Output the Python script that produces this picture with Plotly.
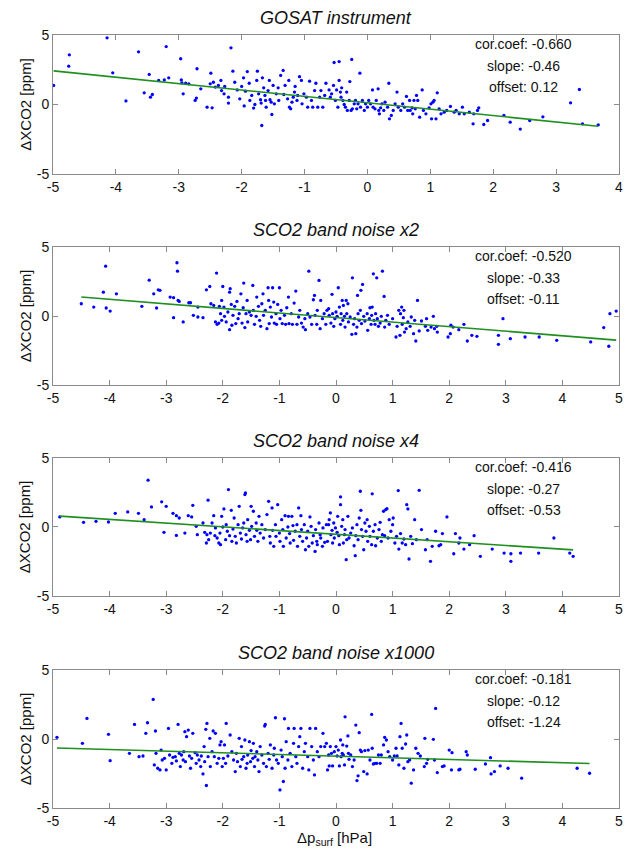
import plotly.graph_objects as go

# ---------------- data ----------------
titles = ["GOSAT instrument", "SCO2 band noise x2", "SCO2 band noise x4", "SCO2 band noise x1000"]
cor_coefs = ["-0.660", "-0.520", "-0.416", "-0.181"]
slopes = [-0.46, -0.33, -0.27, -0.12]
offsets = [0.12, -0.11, -0.53, -1.24]
x_ranges = [[-5, 4], [-5, 5], [-5, 5], [-5, 5]]
y_ticks = [-5, 0, 5]

gosat_pts = [
    (-4.99, 1.37), (-4.74, 3.57), (-4.75, 2.76), (-4.14, 4.80), (-4.05, 2.28), (-3.84, 0.26), (-3.64, 3.79),
    (-3.55, 0.84), (-3.47, 2.16), (-3.45, 0.53), (-3.42, 0.72), (-3.32, 1.73), (-3.23, 1.77), (-3.20, 4.17),
    (-3.16, 1.92), (-2.97, 3.29), (-2.96, 1.77), (-2.95, 1.56), (-2.93, 0.77), (-2.89, 1.53), (-2.84, 1.49),
    (-2.74, 0.29), (-2.71, 2.57), (-2.72, 0.46), (-2.65, 1.13), (-2.55, -0.19), (-2.47, -0.24), (-2.50, 1.49),
    (-2.49, 2.25), (-2.45, 1.60), (-2.42, 1.25), (-2.37, 1.37), (-2.33, 1.73), (-2.32, 1.00), (-2.28, 0.77),
    (-2.27, 1.30), (-2.21, 0.53), (-2.21, 0.10), (-2.17, 4.08), (-2.14, 2.40), (-2.11, 1.60), (-2.07, 1.05),
    (-2.03, 0.41), (-2.00, 1.30), (-1.97, 1.92), (-1.96, -0.10), (-1.94, 0.96), (-1.91, 2.37), (-1.88, 1.53),
    (-1.87, 0.29), (-1.84, 0.65), (-1.81, -0.26), (-1.79, 0.00), (-1.76, 1.73), (-1.75, 2.40), (-1.73, 0.77),
    (-1.70, 0.34), (-1.69, 0.10), (-1.68, -1.51), (-1.67, 1.92), (-1.65, 1.20), (-1.63, 0.65), (-1.62, 0.29),
    (-1.61, -0.19), (-1.58, 1.00), (-1.56, 1.73), (-1.55, 0.34), (-1.53, 0.17), (-1.52, -0.72), (-1.50, 1.37),
    (-1.48, 0.05), (-1.45, 0.77), (-1.42, 1.20), (-1.41, 0.29), (-1.38, 2.09), (-1.34, 2.45), (-1.33, 0.72),
    (-1.31, 1.37), (-1.27, 0.41), (-1.25, 1.73), (-1.24, -0.19), (-1.22, -0.31), (-1.20, 0.17), (-1.18, 0.53),
    (-1.16, 0.89), (-1.15, 1.30), (-1.12, 0.29), (-1.11, 0.65), (-1.08, 2.00), (-1.05, 1.73), (-1.04, 0.05),
    (-1.01, 0.77), (-0.97, 0.53), (-0.95, -0.19), (-0.92, 1.68), (-0.89, 0.29), (-0.87, -0.19), (-0.84, 1.00),
    (-0.82, 1.53), (-0.79, -0.19), (-0.76, 0.53), (-0.74, 1.00), (-0.71, -0.19), (-0.68, 0.65), (-0.66, 1.53),
    (-0.61, 1.05), (-0.59, 0.53), (-0.57, 0.77), (-0.54, 1.37), (-0.53, 3.02), (-0.51, 0.29), (-0.49, 1.05),
    (-0.47, -0.19), (-0.45, 3.09), (-0.45, 1.73), (-0.43, 0.89), (-0.42, 0.53), (-0.41, 1.20), (-0.39, 0.29),
    (-0.37, 0.00), (-0.35, -0.19), (-0.33, 0.89), (-0.32, -0.43), (-0.29, 0.29), (-0.28, 1.65), (-0.26, -0.43),
    (-0.25, 3.24), (-0.24, -0.31), (-0.21, 0.05), (-0.19, 0.29), (-0.17, -0.31), (-0.15, 0.05), (-0.12, 2.25),
    (-0.11, -0.19), (-0.08, 0.29), (-0.05, -0.43), (-0.03, 0.05), (0.00, -0.19), (0.02, 0.29), (0.05, 0.05),
    (0.08, 1.05), (0.09, -0.19), (0.12, -0.31), (0.14, 0.29), (0.17, 1.13), (0.18, -0.43), (0.19, -0.67),
    (0.21, -0.24), (0.23, 0.05), (0.26, -0.43), (0.28, 0.17), (0.32, -0.19), (0.34, 1.53), (0.35, -1.03),
    (0.38, -0.79), (0.41, -0.43), (0.44, 0.05), (0.47, 0.89), (0.49, -0.19), (0.53, -0.43), (0.56, 0.05),
    (0.59, -0.19), (0.62, 0.58), (0.64, -0.43), (0.67, 0.29), (0.68, -0.43), (0.71, -0.24), (0.72, -0.67),
    (0.74, 0.29), (0.76, -0.31), (0.78, 0.65), (0.80, 0.29), (0.83, -0.91), (0.87, 1.05), (0.89, -0.43),
    (0.93, -0.67), (0.98, -0.24), (1.01, 0.05), (1.02, -1.03), (1.04, 0.17), (1.06, 0.29), (1.09, -1.03),
    (1.11, 0.84), (1.14, -0.31), (1.17, -0.67), (1.22, -0.55), (1.26, -0.43), (1.32, -0.14), (1.38, -0.55),
    (1.41, -0.43), (1.46, -0.67), (1.51, -0.19), (1.54, -0.67), (1.62, -0.55), (1.68, -1.39), (1.69, -0.67),
    (1.75, -0.43), (1.77, -0.24), (1.85, -1.44), (1.91, -1.15), (2.17, -0.79), (2.27, -1.27), (2.43, -1.77),
    (2.58, -1.15), (2.79, -0.89), (3.23, 0.12), (3.37, 1.08), (3.42, -1.39), (3.67, -1.46),
]

noise_x2_pts = [
    (-4.50, 0.89), (-4.28, 0.65), (-4.11, 1.73), (-4.07, 3.61), (-4.06, 0.58), (-3.99, 0.36), (-3.88, 1.61),
    (-3.43, 0.70), (-3.30, 2.60), (-3.22, 1.61), (-3.17, 0.58), (-3.14, 1.90), (-3.11, 1.86), (-2.93, 1.37),
    (-2.87, 1.33), (-2.87, -0.12), (-2.81, 3.86), (-2.80, 3.25), (-2.79, 1.13), (-2.77, 1.06), (-2.70, -0.43),
    (-2.60, 0.96), (-2.57, 0.96), (-2.52, 0.05), (-2.44, -0.07), (-2.44, 0.65), (-2.35, -0.12), (-2.29, 1.90),
    (-2.23, 2.14), (-2.21, 0.89), (-2.16, 0.77), (-2.13, -0.43), (-2.11, 3.11), (-2.10, -0.60), (-2.07, -0.51),
    (-2.06, 0.70), (-2.04, 0.17), (-2.02, 1.13), (-2.02, -0.31), (-2.00, 2.14), (-1.98, 0.65), (-1.97, -0.02),
    (-1.94, -0.43), (-1.91, 0.29), (-1.88, 1.73), (-1.88, -0.99), (-1.87, 1.98), (-1.85, 0.84), (-1.84, -0.67),
    (-1.82, 0.05), (-1.79, 0.70), (-1.77, -0.55), (-1.75, 1.06), (-1.73, -0.19), (-1.71, 0.17), (-1.68, 1.61),
    (-1.66, -0.51), (-1.64, 0.60), (-1.63, 2.39), (-1.61, -0.84), (-1.59, 0.17), (-1.57, 1.13), (-1.56, -0.43),
    (-1.53, 0.29), (-1.50, 0.05), (-1.47, 2.22), (-1.46, 0.41), (-1.44, -0.60), (-1.41, -0.02), (-1.40, 1.37),
    (-1.37, 0.70), (-1.35, -0.31), (-1.33, -0.75), (-1.31, 0.89), (-1.29, 1.61), (-1.28, 0.05), (-1.25, 0.41),
    (-1.22, -0.92), (-1.20, 2.05), (-1.19, 1.13), (-1.18, -0.55), (-1.16, 0.65), (-1.14, -0.07), (-1.12, 2.05),
    (-1.10, 1.01), (-1.09, -0.51), (-1.06, 0.17), (-1.05, -0.60), (-1.03, 0.84), (-1.00, 2.05), (-0.99, -0.19),
    (-0.97, 0.41), (-0.95, -0.55), (-0.91, 0.05), (-0.89, -0.60), (-0.87, 0.60), (-0.84, 1.37), (-0.83, -0.55),
    (-0.79, 0.17), (-0.77, -0.60), (-0.74, 0.94), (-0.71, 1.81), (-0.69, -0.60), (-0.66, -0.07), (-0.64, 0.41),
    (-0.61, -0.51), (-0.58, -0.80), (-0.55, -0.19), (-0.54, -0.99), (-0.50, 0.17), (-0.48, 3.25), (-0.46, -0.07),
    (-0.43, -0.60), (-0.40, 1.18), (-0.38, 1.49), (-0.37, 0.05), (-0.34, -0.60), (-0.33, 0.41), (-0.30, 2.58),
    (-0.28, -0.92), (-0.27, 1.13), (-0.24, -0.19), (-0.21, 0.17), (-0.18, -0.60), (-0.16, 0.41), (-0.13, 0.53),
    (-0.12, 0.05), (-0.09, -0.51), (-0.07, 1.57), (-0.06, 0.17), (-0.04, -0.75), (-0.02, -0.19), (0.00, 0.29),
    (0.02, -0.02), (0.04, 2.05), (0.06, 0.65), (0.08, -0.60), (0.09, 0.17), (0.11, 1.13), (0.12, -0.31),
    (0.13, 0.77), (0.15, -0.02), (0.16, -0.80), (0.18, 1.13), (0.19, 0.17), (0.21, 0.89), (0.22, -0.43),
    (0.25, -0.07), (0.28, -1.33), (0.29, 2.77), (0.31, -0.60), (0.33, -0.19), (0.35, -1.28), (0.37, -0.80),
    (0.38, 1.49), (0.39, 0.17), (0.41, -0.31), (0.43, 0.41), (0.44, 1.86), (0.45, -0.55), (0.47, 2.29),
    (0.49, -0.02), (0.51, -0.36), (0.55, 0.17), (0.56, -1.04), (0.59, -0.19), (0.60, 0.60), (0.62, -0.60),
    (0.63, 0.05), (0.64, 0.65), (0.66, 3.06), (0.67, -0.31), (0.69, -0.60), (0.70, 0.17), (0.72, 2.77),
    (0.73, -0.19), (0.75, -0.75), (0.78, -0.51), (0.80, -0.02), (0.82, 3.25), (0.85, 1.42), (0.86, -0.80),
    (0.88, -0.31), (0.91, 0.05), (0.94, -0.60), (1.00, -0.19), (1.06, -1.52), (1.08, -0.75), (1.11, 0.41),
    (1.13, -1.40), (1.14, 0.17), (1.16, 0.65), (1.17, -0.60), (1.19, -0.12), (1.20, 0.41), (1.21, -1.16),
    (1.24, -0.92), (1.27, -0.43), (1.31, -0.75), (1.33, -0.07), (1.37, -1.28), (1.39, -0.31), (1.41, -1.81),
    (1.44, 1.13), (1.47, -1.08), (1.51, -0.36), (1.58, -0.75), (1.60, -0.19), (1.62, -1.04), (1.68, -0.80),
    (1.72, -0.02), (1.74, -0.92), (1.78, -0.75), (1.79, -1.16), (1.98, -1.52), (2.02, -1.28), (2.03, -0.67),
    (2.07, -0.80), (2.17, -0.99), (2.26, -0.60), (2.32, -1.81), (2.40, -1.40), (2.49, -1.47), (2.87, -1.40),
    (2.87, -2.05), (2.95, -0.19), (3.08, -1.64), (3.34, -1.52), (3.59, -1.52), (3.90, -1.76), (4.50, -1.88),
    (4.73, -0.84), (4.82, -2.19), (4.84, 0.17), (4.95, 0.36),
]

noise_x4_pts = [
    (-4.88, 0.73), (-4.46, 0.34), (-4.24, 0.41), (-4.02, 0.36), (-3.90, 0.99), (-3.68, 1.09), (-3.49, 0.99),
    (-3.39, 0.53), (-3.32, 3.39), (-3.26, 1.45), (-3.08, 1.82), (-3.04, -0.39), (-3.00, 1.50), (-2.88, 0.99),
    (-2.82, 0.82), (-2.82, -0.61), (-2.77, 0.65), (-2.67, -0.44), (-2.61, 0.82), (-2.55, 0.73), (-2.53, 1.57),
    (-2.47, 0.05), (-2.45, -0.56), (-2.35, 0.29), (-2.32, -0.39), (-2.29, -1.16), (-2.28, -0.56), (-2.26, 1.94),
    (-2.25, -0.92), (-2.22, -0.44), (-2.19, 0.29), (-2.16, 0.82), (-2.14, -0.63), (-2.13, -0.07), (-2.10, -0.80),
    (-2.07, -1.16), (-2.05, -0.44), (-2.04, -1.28), (-2.02, 0.77), (-2.00, 0.00), (-1.98, 1.31), (-1.95, -0.92),
    (-1.94, 0.17), (-1.92, -0.31), (-1.90, 2.71), (-1.88, -0.63), (-1.85, 1.21), (-1.84, -1.04), (-1.82, -0.15),
    (-1.80, 0.65), (-1.78, -0.68), (-1.76, -1.16), (-1.73, 0.17), (-1.71, 1.50), (-1.69, -0.44), (-1.67, -0.87),
    (-1.65, -0.07), (-1.63, 0.29), (-1.61, 2.35), (-1.60, 2.47), (-1.59, -0.56), (-1.57, -1.04), (-1.56, 0.53),
    (-1.53, -0.24), (-1.51, -0.92), (-1.50, 1.50), (-1.49, 0.05), (-1.46, 1.14), (-1.44, -0.68), (-1.41, 0.29),
    (-1.40, -0.24), (-1.38, -1.04), (-1.36, 0.77), (-1.34, -0.44), (-1.31, 0.17), (-1.28, -0.80), (-1.25, -0.19),
    (-1.22, 0.90), (-1.19, 1.86), (-1.17, -0.68), (-1.16, -1.16), (-1.13, 1.38), (-1.12, -0.24), (-1.10, -1.40),
    (-1.07, 0.17), (-1.06, -0.68), (-1.03, 1.62), (-1.00, -0.44), (-0.99, -1.04), (-0.96, 0.53), (-0.94, -0.19),
    (-0.93, -1.40), (-0.90, 0.82), (-0.88, -0.80), (-0.85, 0.00), (-0.84, 0.77), (-0.82, -0.48), (-0.81, -1.16),
    (-0.78, 0.77), (-0.76, 0.10), (-0.75, -0.97), (-0.72, -0.31), (-0.69, 0.17), (-0.68, -1.40), (-0.66, 1.38),
    (-0.64, -0.68), (-0.62, 0.82), (-0.61, -0.19), (-0.59, -1.04), (-0.56, 0.17), (-0.54, -1.65), (-0.52, -0.80),
    (-0.50, -0.31), (-0.48, -1.40), (-0.46, 0.73), (-0.44, 0.05), (-0.42, -1.16), (-0.40, -0.63), (-0.37, -1.77),
    (-0.36, -0.19), (-0.34, -1.04), (-0.33, -1.28), (-0.30, 0.29), (-0.28, -0.56), (-0.27, -0.80), (-0.24, -1.40),
    (-0.23, -0.07), (-0.20, -1.11), (-0.17, 0.17), (-0.15, -1.04), (-0.13, 0.17), (-0.12, 0.53), (-0.10, 1.02),
    (-0.09, -0.56), (-0.07, -0.24), (-0.06, -1.16), (-0.04, 0.29), (-0.03, -0.80), (-0.01, -0.07), (0.02, -0.39),
    (0.03, 0.77), (0.05, -0.63), (0.06, -1.28), (0.08, 2.18), (0.08, 1.62), (0.10, 0.05), (0.12, 0.53),
    (0.13, -1.16), (0.15, -0.56), (0.16, -0.19), (0.18, -2.37), (0.19, -0.92), (0.21, 0.77), (0.23, -0.80),
    (0.26, -0.44), (0.29, -0.07), (0.32, -1.36), (0.34, -2.08), (0.35, -0.63), (0.37, 0.17), (0.39, -0.92),
    (0.41, 0.65), (0.43, 2.59), (0.44, 1.21), (0.45, -0.19), (0.47, -0.68), (0.49, -1.65), (0.51, 0.29),
    (0.53, -0.31), (0.55, 0.53), (0.56, -1.04), (0.59, 0.05), (0.60, -0.68), (0.63, -1.28), (0.64, 2.40),
    (0.66, -0.31), (0.69, 0.17), (0.70, -1.36), (0.73, -0.80), (0.76, -0.19), (0.78, 0.34), (0.80, -1.04),
    (0.82, -0.56), (0.84, 1.14), (0.86, -0.63), (0.88, 1.26), (0.90, 1.33), (0.92, -0.80), (0.94, 0.53),
    (0.97, -0.31), (1.00, 0.17), (1.01, 0.65), (1.04, -1.16), (1.07, -0.68), (1.10, 2.64), (1.11, -1.60),
    (1.14, -0.48), (1.17, -1.16), (1.20, -0.87), (1.23, -1.28), (1.25, 1.62), (1.27, 1.31), (1.29, -2.32),
    (1.32, -0.68), (1.35, -1.21), (1.39, 0.53), (1.42, -0.92), (1.47, 2.66), (1.51, -0.19), (1.58, -1.65),
    (1.61, -0.92), (1.67, -2.49), (1.70, -1.40), (1.76, -0.31), (1.82, -1.36), (1.85, -1.28), (1.88, -0.48),
    (1.96, 0.73), (2.08, -1.94), (2.11, -0.48), (2.17, -1.16), (2.19, -0.80), (2.26, -1.60), (2.36, -1.28),
    (2.44, -0.63), (2.55, -2.13), (2.76, -1.60), (2.97, -1.89), (3.09, -2.49), (3.09, -1.94), (3.26, -1.89),
    (3.58, -1.89), (3.85, -0.80), (4.13, -1.89), (4.19, -2.13),
]

noise_x1000_pts = [
    (-4.93, 0.12), (-4.48, -0.31), (-4.40, 1.49), (-4.02, 0.34), (-3.99, -1.57), (-3.65, -1.04), (-3.56, 1.06),
    (-3.48, -1.28), (-3.41, -1.23), (-3.36, 0.41), (-3.33, 1.18), (-3.23, 2.87), (-3.21, -1.88), (-3.19, 0.58),
    (-3.18, -1.04), (-3.15, -2.12), (-3.11, -2.24), (-3.09, -0.80), (-3.07, -1.52), (-3.03, -1.40), (-3.00, -2.24),
    (-2.96, 0.77), (-2.94, -1.16), (-2.90, -1.76), (-2.88, -1.33), (-2.84, -1.28), (-2.82, -1.59), (-2.79, 1.06),
    (-2.77, -1.04), (-2.75, -2.00), (-2.73, -1.16), (-2.70, -1.52), (-2.69, -0.92), (-2.67, 0.53), (-2.66, -1.64),
    (-2.64, 0.17), (-2.61, 0.65), (-2.59, -1.23), (-2.57, -2.12), (-2.55, -1.40), (-2.53, 0.41), (-2.49, -0.99),
    (-2.47, -1.76), (-2.45, -1.16), (-2.42, -1.52), (-2.39, -2.00), (-2.38, -1.23), (-2.35, -2.53), (-2.33, -0.55),
    (-2.32, -1.64), (-2.30, 0.70), (-2.29, -3.37), (-2.28, 1.13), (-2.26, -1.28), (-2.23, 0.05), (-2.22, -2.00),
    (-2.19, -0.92), (-2.17, 0.58), (-2.15, -1.28), (-2.13, 0.41), (-2.10, -1.76), (-2.07, -1.40), (-2.05, -0.43),
    (-2.03, -0.19), (-2.01, -2.00), (-1.99, -1.40), (-1.97, -0.43), (-1.95, -1.76), (-1.94, 1.13), (-1.91, -1.23),
    (-1.87, 0.29), (-1.84, -0.92), (-1.81, -1.52), (-1.78, -2.36), (-1.76, -1.04), (-1.74, -1.64), (-1.71, 0.05),
    (-1.69, -2.00), (-1.67, -0.55), (-1.66, -1.47), (-1.63, -1.28), (-1.61, -0.07), (-1.59, -2.12), (-1.57, -1.76),
    (-1.56, -1.16), (-1.53, -0.19), (-1.51, -1.64), (-1.50, -0.84), (-1.47, -1.40), (-1.46, -0.31), (-1.44, -2.00),
    (-1.43, -1.28), (-1.40, -0.92), (-1.38, -1.52), (-1.36, -2.36), (-1.34, -0.55), (-1.31, -1.16), (-1.28, -1.76),
    (-1.26, 0.94), (-1.25, 1.06), (-1.23, -2.00), (-1.20, -1.04), (-1.18, -1.47), (-1.16, -0.43), (-1.13, -2.12),
    (-1.10, -1.16), (-1.09, -0.67), (-1.07, 1.54), (-1.05, -1.52), (-1.02, -1.76), (-0.99, -3.69), (-0.97, -0.80),
    (-0.95, -1.28), (-0.93, -3.08), (-0.91, 1.47), (-0.90, -2.12), (-0.88, -0.19), (-0.85, -1.52), (-0.84, 0.77),
    (-0.81, -1.04), (-0.78, -2.00), (-0.75, -0.31), (-0.74, 0.77), (-0.71, -1.28), (-0.69, -1.76), (-0.66, -0.55),
    (-0.64, 0.17), (-0.62, 0.77), (-0.59, -2.12), (-0.56, -0.92), (-0.54, -0.31), (-0.50, -1.28), (-0.48, -2.24),
    (-0.46, 0.77), (-0.43, -0.55), (-0.40, -1.52), (-0.38, -2.60), (-0.36, 0.77), (-0.33, -0.92), (-0.30, -1.28),
    (-0.27, -0.55), (-0.23, 0.41), (-0.20, -0.55), (-0.17, -0.31), (-0.15, -2.24), (-0.13, -1.16), (-0.12, -1.95),
    (-0.10, -0.55), (-0.08, -1.04), (-0.06, -1.95), (-0.03, -0.92), (0.00, -0.55), (0.02, -1.23), (0.04, -0.80),
    (0.06, -1.95), (0.08, -0.07), (0.09, -1.28), (0.11, -1.04), (0.12, -0.43), (0.13, -1.16), (0.15, -1.88),
    (0.16, 1.61), (0.19, -0.51), (0.21, 0.22), (0.22, -1.04), (0.23, -1.47), (0.26, -1.16), (0.29, -2.00),
    (0.32, -1.52), (0.35, 1.01), (0.37, -3.01), (0.39, -2.67), (0.41, 0.46), (0.43, -0.80), (0.45, -0.92),
    (0.49, -2.36), (0.51, -0.84), (0.55, -2.53), (0.57, -0.80), (0.60, -1.52), (0.63, 1.78), (0.64, -0.67),
    (0.66, -1.81), (0.69, -1.76), (0.72, -1.76), (0.75, -1.16), (0.78, -1.76), (0.80, -1.16), (0.84, -0.43),
    (0.86, 0.12), (0.89, -0.07), (0.92, -0.92), (0.95, -1.28), (1.00, -1.52), (1.03, -1.23), (1.06, -0.67),
    (1.08, -1.23), (1.11, -1.88), (1.13, 0.17), (1.15, 1.13), (1.17, -0.67), (1.20, -2.12), (1.23, -0.36),
    (1.25, 0.29), (1.27, -1.64), (1.30, -1.52), (1.33, -3.20), (1.37, -2.24), (1.41, -0.67), (1.45, -1.04),
    (1.49, -1.23), (1.56, -2.00), (1.57, 0.05), (1.60, -1.76), (1.62, -1.47), (1.72, -0.02), (1.74, -1.52),
    (1.76, 2.22), (1.79, -2.43), (1.88, -2.00), (1.91, -1.95), (2.00, -0.80), (2.04, -2.24), (2.05, -0.99),
    (2.17, -2.24), (2.19, -2.19), (2.30, -0.92), (2.32, -1.16), (2.46, -2.19), (2.64, -1.81), (2.73, -1.35),
    (2.74, -2.53), (2.80, -2.36), (2.90, -1.95), (3.04, -2.12), (3.28, -2.84), (4.26, -2.12), (4.48, -2.48),
]

panels = [gosat_pts, noise_x2_pts, noise_x4_pts, noise_x1000_pts]

# ---------------- layout geometry ----------------
W, H = 633, 849
ML, MR, MT, MB = 53, 10, 35, 41
PW, PH = W - ML - MR, H - MT - MB
domains = [[0.8202, 1.0], [0.5472, 0.7257], [0.2743, 0.4528], [0.0, 0.1785]]
FONT = "Liberation Sans, Arial, sans-serif"
AXIS_COLOR = "#8a8a8a"
TXT = "#111111"

fig = go.Figure()
annotations = []
for i, pts in enumerate(panels):
    xs = [p[0] for p in pts]
    ys = [p[1] for p in pts]
    ax = "" if i == 0 else str(i + 1)
    fig.add_trace(go.Scatter(
        x=xs, y=ys, mode="markers", xaxis="x" + ax, yaxis="y" + ax,
        marker=dict(color="#0000ff", size=3.3, line=dict(width=0)),
        showlegend=False, hoverinfo="skip"))
    x0, x1 = min(xs), max(xs)
    fig.add_trace(go.Scatter(
        x=[x0, x1], y=[offsets[i] + slopes[i] * x0, offsets[i] + slopes[i] * x1],
        mode="lines", xaxis="x" + ax, yaxis="y" + ax,
        line=dict(color="#1f8f1f", width=1.6), showlegend=False, hoverinfo="skip"))

    xr = x_ranges[i]
    fig.layout["xaxis" + ax] = dict(
        domain=[0, 1], anchor="y" + ax, range=xr, tickmode="array",
        tickvals=list(range(xr[0], xr[1] + 1)), ticktext=[str(v) for v in range(xr[0], xr[1] + 1)],
        showline=True, linecolor=AXIS_COLOR, linewidth=1, mirror="ticks",
        ticks="inside", ticklen=5, tickcolor=AXIS_COLOR, showgrid=False, zeroline=False,
        ticklabeloverflow="allow",
        tickfont=dict(family=FONT, size=14, color=TXT))
    fig.layout["yaxis" + ax] = dict(
        domain=domains[i], anchor="x" + ax, range=[-5, 5], tickmode="array",
        tickvals=y_ticks, ticktext=[str(v) for v in y_ticks],
        showline=True, linecolor=AXIS_COLOR, linewidth=1, mirror="ticks",
        ticks="inside", ticklen=5, tickcolor=AXIS_COLOR, showgrid=False, zeroline=False,
        tickfont=dict(family=FONT, size=14, color=TXT))

    yref = "y" + ax + " domain"
    # panel title
    annotations.append(dict(
        text="<i>" + titles[i] + "</i>", xref="paper", yref=yref, x=0.5, y=1 + 17.5 / 139,
        xanchor="center", yanchor="middle", showarrow=False,
        font=dict(family=FONT, size=18, color=TXT)))
    # y axis label
    annotations.append(dict(
        text="\u0394XCO2 [ppm]", xref="paper", yref=yref, x=(25 - ML) / PW, y=0.5,
        xanchor="center", yanchor="middle", textangle=-90, showarrow=False,
        font=dict(family=FONT, size=15, color=TXT)))
    # statistics text
    stats = ["cor.coef: " + cor_coefs[i], "slope: %.2f" % slopes[i], "offset: %.2f" % offsets[i]]
    for s, dy in zip(stats, [9, 31, 52]):
        annotations.append(dict(
            text=s, xref="paper", yref=yref, x=(527 - ML) / PW, y=1 - dy / 139,
            xanchor="center", yanchor="middle", showarrow=False,
            font=dict(family=FONT, size=14, color=TXT)))

annotations.append(dict(
    text="\u0394p<sub>surf</sub> [hPa]", xref="paper", yref="paper",
    x=(336 - ML) / PW, y=-(827 - 808) / PH,
    xanchor="center", yanchor="top", showarrow=False,
    font=dict(family=FONT, size=15, color=TXT)))

fig.update_layout(
    width=W, height=H, margin=dict(l=ML, r=MR, t=MT, b=MB),
    paper_bgcolor="white", plot_bgcolor="white", annotations=annotations,
    font=dict(family=FONT))

fig.write_html("out.html", config={"displayModeBar": False},
               post_script="document.body.style.margin='0px';document.body.style.overflow='hidden';")
